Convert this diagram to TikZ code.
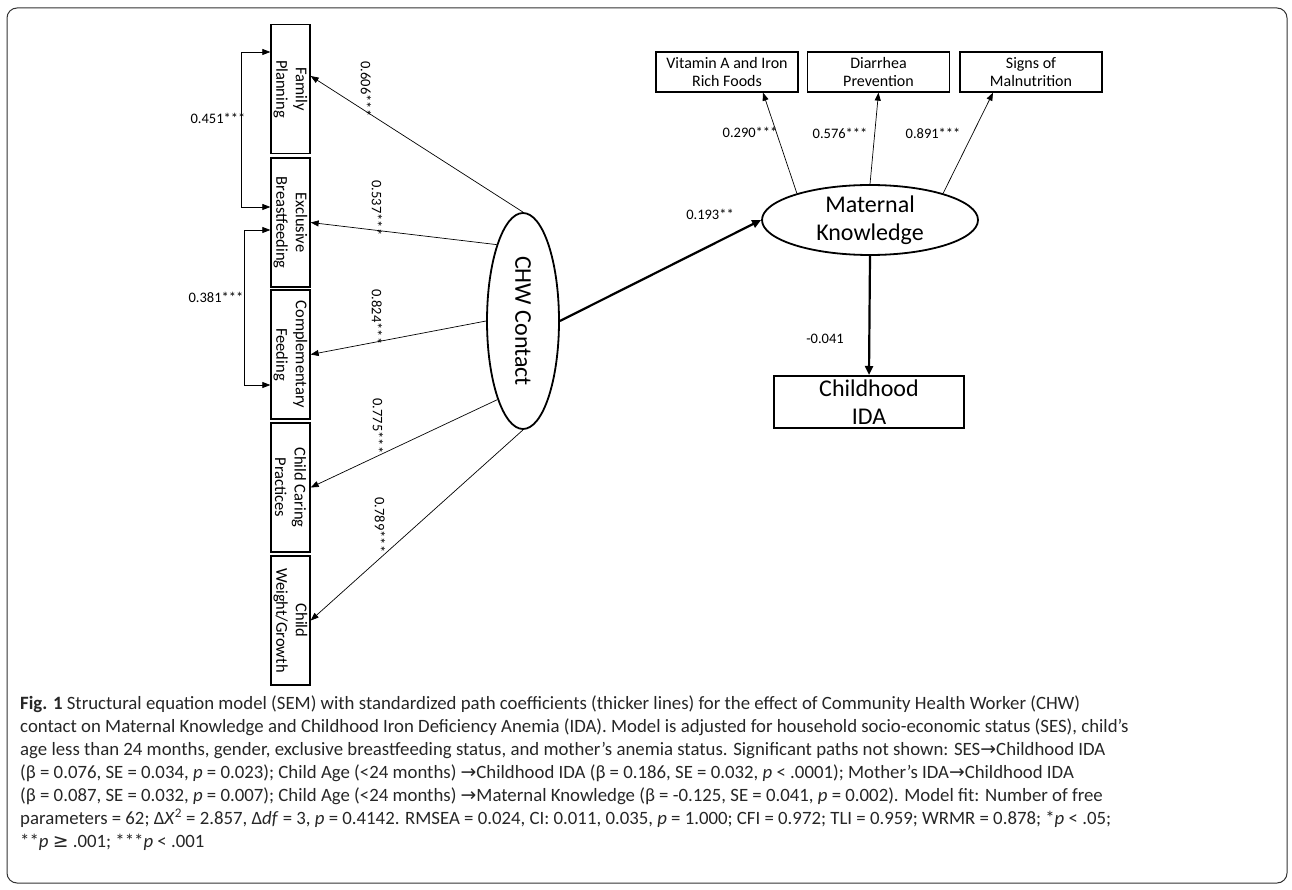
\documentclass[tikz,border=0pt]{standalone}
\usepackage{fontspec}
\setmainfont{Carlito}
\newfontfamily\symfont{DejaVu Sans}
\usetikzlibrary{shapes.geometric,arrows.meta,positioning,calc}

\newcommand{\rarr}{{\symfont →}}

\begin{document}
\begin{tikzpicture}[x=1pt, y=-1pt,
    indbox/.style={draw, line width=1.3pt, minimum width=39pt, minimum height=129pt,
        inner sep=0pt},
    indtext/.style={rotate=-90, align=center, inner sep=0pt,
        font=\fontsize{16.5}{19.5}\selectfont},
    topbox/.style={draw, line width=1.3pt, minimum width=142pt, minimum height=40pt,
        inner sep=0pt, align=center, font=\fontsize{16}{18.5}\selectfont},
    latent/.style={draw, ellipse, line width=1.8pt, inner sep=0pt,
        font=\fontsize{24}{28}\selectfont},
    load/.style={-{Triangle[length=8pt,width=6pt]}, line width=0.7pt},
    cov/.style={{Triangle[length=8pt,width=6pt]}-{Triangle[length=8pt,width=6pt]}, line width=0.7pt},
    strpath/.style={-{Triangle[length=9pt,width=8pt]}, line width=2.2pt},
    coef/.style={font=\fontsize{14.5}{16}\selectfont},
    capline/.style={anchor=base west, inner sep=0pt, text=black!85,
        font=\fontsize{18.8}{23}\selectfont},
]
\useasboundingbox (0,0) rectangle (1292,890);

% frame
\draw[line width=1pt, rounded corners=10pt, black!80] (7,8) rectangle (1287,883);

% CHW indicators
\node[indbox] (fp)  at (290.5,89)    {};
\node[indbox] (eb)  at (290.5,222.5) {};
\node[indbox] (cf)  at (290.5,354.5) {};
\node[indbox] (ccp) at (290.5,487.5) {};
\node[indbox] (cwg) at (290.5,620.5) {};
\node[indtext] (fpt)  at (fp)  {Family\\Planning};
\node[indtext] (ebt)  at (eb)  {Exclusive\\Breastfeeding};
\node[indtext] (cft)  at (cf)  {Complementary\\Feeding};
\node[indtext] (ccpt) at (ccp) {Child Caring\\Practices};
\node[indtext] (cwgt) at (cwg) {Child\\Weight/Growth};

% latent variables
\node[latent, minimum width=72pt, minimum height=216pt] (chw) at (523,321) {\rotatebox{-90}{CHW Contact}};
\node[latent, minimum width=216pt, minimum height=70pt, align=center] (mk) at (870,220) {Maternal\\Knowledge};

% knowledge indicators
\node[topbox] (vit) at (727,72)    {Vitamin A and Iron\\Rich Foods};
\node[topbox] (dia) at (878.5,72)  {Diarrhea\\Prevention};
\node[topbox] (sig) at (1031,72)   {Signs of\\Malnutrition};

% outcome
\node[draw, line width=2pt, minimum width=190pt, minimum height=52pt, inner sep=0pt,
    align=center, font=\fontsize{24}{28}\selectfont] (ida) at (869,402) {Childhood\\IDA};

% loadings of CHW Contact
\draw[load] (chw.north) -- ([yshift=13pt]fp.east);
\draw[load] (chw.109)   -- (eb.east);
\draw[load] (chw.west)  -- (cf.east);
\draw[load] (chw.252)   -- (ccp.east);
\draw[load] (chw.south) -- (cwg.east);
\node[coef, rotate=-90] (l1) at (366,89)  {0.606***};
\node[coef, rotate=-90] (l2) at (377,208) {0.537***};
\node[coef, rotate=-90] (l3) at (377,317) {0.824***};
\node[coef, rotate=-90] (l4) at (378,426) {0.775***};
\node[coef, rotate=-90] (l5) at (380,525) {0.789***};

% residual covariances
\draw[cov] ([yshift=37pt]fp.west) -- ++(-29,0) |- ([yshift=15.5pt]eb.west);
\draw[cov] ([yshift=-7.5pt]eb.west) -- ++(-26,0) |- ([yshift=-30.5pt]cf.west);
\node[coef] (c1) at (218,118) {0.451***};
\node[coef] (c2) at (216,297) {0.381***};

% structural paths
\draw[strpath] (chw.east) -- (mk.west);
\node[coef] (p1) at (710,214) {0.193**};
\draw[strpath] (mk.south) -- (ida.north);
\node[coef] (p2) at (825,339) {-0.041};

% loadings of Maternal Knowledge
\draw[load] (mk.160)   -- ([xshift=36pt]vit.south);
\draw[load] (mk.north) -- (dia.south);
\draw[load] (mk.20)    -- ([xshift=-38pt]sig.south);
\node[coef] (k1) at (750,132) {0.290***};
\node[coef] (k2) at (840,133) {0.576***};
\node[coef] (k3) at (933,133) {0.891***};

% caption
\node[capline] (cap1) at (20,709) {\textbf{Fig. 1} Structural equation model (SEM) with standardized path coefficients (thicker lines) for the effect of Community Health Worker (CHW)};
\node[capline] (cap2) at (20,732) {contact on Maternal Knowledge and Childhood Iron Deficiency Anemia (IDA). Model is adjusted for household socio-economic status (SES), child’s};
\node[capline] (cap3) at (20,755) {age less than 24 months, gender, exclusive breastfeeding status, and mother’s anemia status. Significant paths not shown: SES\rarr Childhood IDA};
\node[capline] (cap4) at (20,778) {(β = 0.076, SE = 0.034, \textit{p} = 0.023); Child Age (<24 months) \rarr Childhood IDA (β = 0.186, SE = 0.032, \textit{p} < .0001); Mother’s IDA\rarr Childhood IDA};
\node[capline] (cap5) at (20,801) {(β = 0.087, SE = 0.032, \textit{p} = 0.007); Child Age (<24 months) \rarr Maternal Knowledge (β = -0.125, SE = 0.041, \textit{p} = 0.002). Model fit: Number of free};
\node[capline] (cap6) at (20,824) {parameters = 62; Δ\textit{X}\textsuperscript{2} = 2.857, Δ\textit{df} = 3, \textit{p} = 0.4142. RMSEA = 0.024, CI: 0.011, 0.035, \textit{p} = 1.000; CFI = 0.972; TLI = 0.959; WRMR = 0.878; *\textit{p} < .05;};
\node[capline] (cap7) at (20,847) {**\textit{p} {\symfont ≥} .001; ***\textit{p} < .001};
\end{tikzpicture}
\end{document}
